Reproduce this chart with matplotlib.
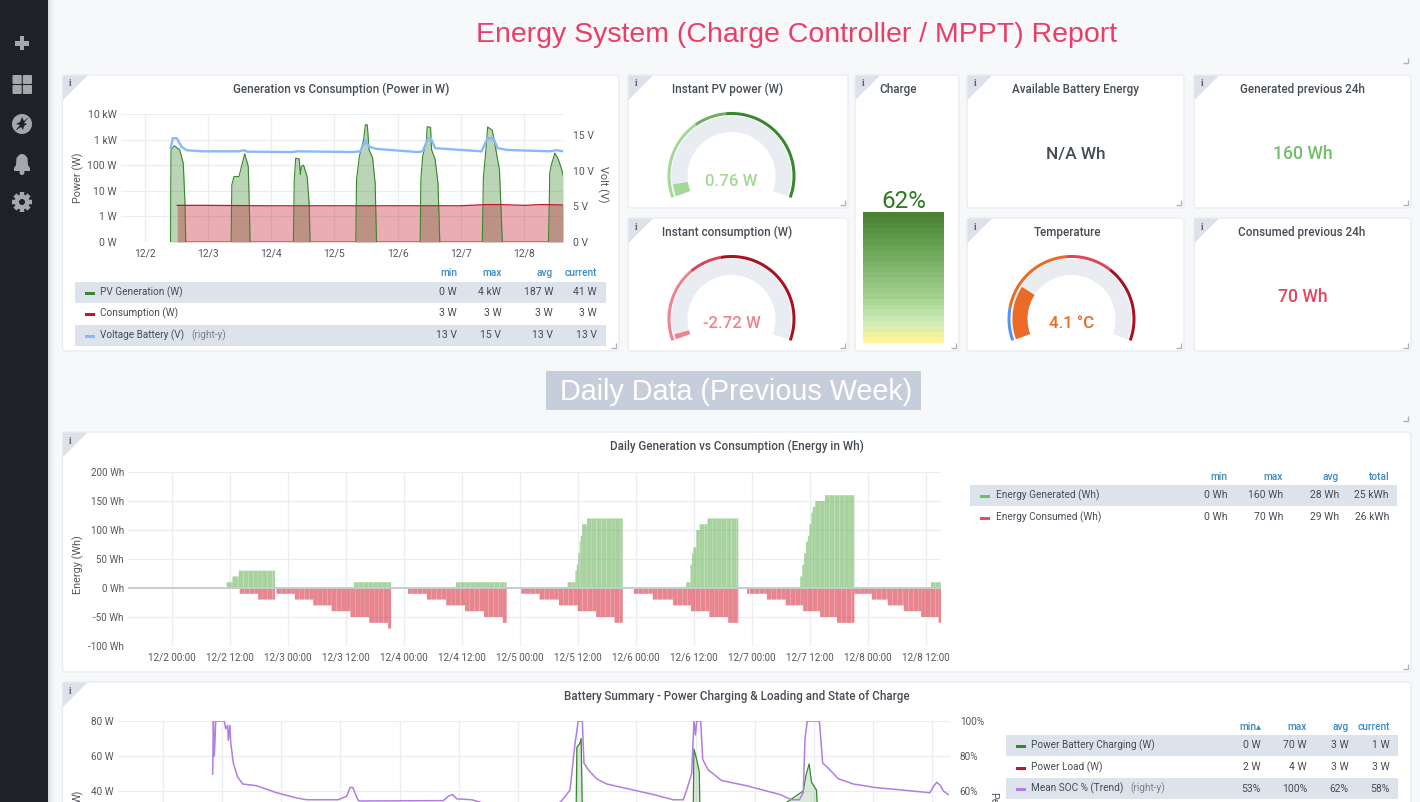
import numpy as np
import matplotlib

matplotlib.use("Agg")
import matplotlib.pyplot as plt
from matplotlib.colors import LinearSegmentedColormap
from matplotlib.patches import Circle, FancyBboxPatch, Polygon, Rectangle

W, H = 1420, 802
plt.rcParams["font.family"] = ["Roboto", "DejaVu Sans"]

TEXT = "#464c54"
TICK = "#53565e"
GRID = "#eaedf2"
HEAD = "#3c8cc8"
BAND = "#dde3ec"
GREEN = "#37872d"
RED = "#c4162a"
BLUE = "#8ab8ff"
PURPLE = "#b27de2"

# power chart, x in days after 12/2 00:00
pv_days = [0.405, 0.407, 0.412, 0.464, 0.549, 0.606, 0.634, 0.645,
           1.364, 1.375, 1.409, 1.449, 1.488, 1.579, 1.635, 1.652, 1.664,
           2.35, 2.364, 2.387, 2.443, 2.46, 2.477, 2.511, 2.568, 2.6, 2.615, 2.63,
           3.339, 3.35, 3.395, 3.463, 3.49, 3.52, 3.549, 3.605, 3.645, 3.667,
           4.358, 4.369, 4.397, 4.454, 4.47, 4.522, 4.539, 4.595, 4.64, 4.669,
           5.342, 5.359, 5.399, 5.427, 5.501, 5.557, 5.614, 5.659,
           6.39, 6.406, 6.41, 6.43, 6.49, 6.55, 6.6, 6.62]
pv_watts = [0.1, 4.5, 400, 575, 400, 120, 3, 0.1,
            0.1, 17, 36, 36, 36, 280, 91, 3, 0.1,
            0.1, 27, 190, 175, 43, 91, 100, 36, 3, 0.1, 0.1,
            0.1, 27, 220, 1000, 3800, 3800, 400, 190, 20, 0.1,
            0.1, 27, 220, 800, 3200, 3000, 400, 170, 20, 0.1,
            0.1, 32, 400, 3100, 2300, 400, 66, 0.1,
            0.1, 12, 50, 90, 300, 160, 66, 41]
load_days = [0.51, 1.0, 2.0, 3.0, 4.0, 5.0, 5.4, 5.6, 6.0, 6.3, 6.62]
load_watts = [2.7, 2.7, 2.6, 2.6, 2.6, 2.6, 2.9, 2.9, 2.7, 2.9, 2.8]
volt_days = [0.407, 0.44, 0.503, 0.577, 0.662, 0.917, 1.483, 1.567, 1.624, 2.33, 2.415,
             3.294, 3.407, 3.492, 3.549, 3.662, 4.312, 4.397, 4.482, 4.527, 4.595,
             5.33, 5.426, 5.517, 5.585, 5.73, 6.405, 6.52, 6.62]
volt_values = [13.2, 14.6, 14.6, 13.4, 12.9, 12.75, 12.75, 12.9, 12.7, 12.65, 12.75,
               12.65, 12.75, 14.25, 13.4, 13.1, 12.65, 12.75, 14.6, 14.6, 13.2,
               12.75, 14.6, 14.6, 13.2, 12.95, 12.75, 12.9, 12.75]
power_ticks = [0.1, 1, 10, 100, 1000, 10000]
power_labels = ["0 W", "1 W", "10 W", "100 W", "1 kW", "10 kW"]
volt_ticks = [0, 5, 10, 15]
volt_labels = ["0 V", "5 V", "10 V", "15 V"]
date_labels = ["12/2", "12/3", "12/4", "12/5", "12/6", "12/7", "12/8"]

# daily energy, x in hours after 12/2 00:00
gen_start = [11.4, 12.6, 13.9, 37.7, 58.8, 81.9, 83.5, 83.8, 84.1, 84.4, 84.6, 84.9, 85.9,
             106.4, 107.3, 107.6, 107.9, 108.5, 109.2, 110.8,
             130.0, 130.4, 130.8, 131.2, 131.6, 131.9, 132.3, 132.6, 133.1, 135.1, 157.0]
gen_end = [12.6, 13.9, 21.4, 45.4, 69.3, 83.5, 83.8, 84.1, 84.4, 84.6, 84.9, 85.9, 93.3,
           107.3, 107.6, 107.9, 108.5, 109.2, 110.8, 117.2,
           130.4, 130.8, 131.2, 131.6, 131.9, 132.3, 132.6, 133.1, 135.1, 141.2, 159.1]
gen_wh = [10, 20, 30, 10, 10, 10, 30, 40, 60, 80, 90, 110, 120,
          10, 40, 60, 70, 100, 110, 120,
          20, 40, 60, 80, 90, 110, 130, 140, 150, 160, 10]
use_start = [14.1, 17.9, 21.7, 25.5, 29.3, 33.1, 37.0, 40.9, 44.8,
             48.9, 52.8, 56.8, 60.7, 64.6, 68.5,
             72.3, 76.1, 80.1, 84.0, 87.8, 91.6,
             95.6, 99.5, 103.7, 107.4, 111.2, 115.1,
             119.0, 119.6, 123.1, 127.0, 130.6, 134.1, 137.6,
             141.2, 144.8, 148.1, 151.4, 155.0, 158.6]
use_end = [17.9, 21.4, 25.5, 29.3, 33.1, 37.0, 40.9, 44.8, 45.4,
           52.8, 56.8, 60.7, 64.6, 68.5, 69.3,
           76.1, 80.1, 84.0, 87.8, 91.6, 93.3,
           99.5, 103.7, 107.4, 111.2, 115.1, 117.2,
           119.5, 123.1, 127.0, 130.6, 134.1, 137.6, 141.2,
           144.8, 148.1, 151.4, 155.0, 158.6, 159.1]
use_wh = [-10, -20, -10, -20, -30, -40, -50, -60, -70,
          -10, -20, -30, -40, -50, -60,
          -10, -20, -30, -40, -50, -60,
          -10, -20, -30, -40, -50, -60,
          -10, -10, -20, -30, -40, -50, -60,
          -10, -20, -30, -40, -50, -60]
energy_ticks = [-100, -50, 0, 50, 100, 150, 200]
energy_labels = ["-100 Wh", "-50 Wh", "0 Wh", "50 Wh", "100 Wh", "150 Wh", "200 Wh"]
hour_ticks = [0, 12, 24, 36, 48, 60, 72, 84, 96, 108, 120, 132, 144, 156]
hour_labels = ["12/2 00:00", "12/2 12:00", "12/3 00:00", "12/3 12:00", "12/4 00:00",
               "12/4 12:00", "12/5 00:00", "12/5 12:00", "12/6 00:00", "12/6 12:00",
               "12/7 00:00", "12/7 12:00", "12/8 00:00", "12/8 12:00"]

# battery chart, x in days, cut off by the bottom of the page
soc_days = [0.422, 0.428, 0.436, 0.448, 0.52, 0.532, 0.549, 0.554, 0.568, 0.574, 0.596, 0.633,
            0.676, 0.794, 0.963, 1.132, 1.216, 1.483, 1.554, 1.582, 1.605, 1.652, 1.681,
            2.37, 2.412, 2.449, 2.483, 2.61, 2.76, 3.19, 3.31,
            3.37, 3.44, 3.482, 3.51, 3.544, 3.558, 3.595, 3.665, 3.75, 3.947, 4.143, 4.312,
            4.397, 4.425, 4.468, 4.487, 4.50, 4.51, 4.544, 4.561, 4.608, 4.72, 4.932, 5.213,
            5.312, 5.377, 5.41, 5.425, 5.444, 5.546, 5.557, 5.574, 5.622, 5.706, 5.833,
            6.016, 6.255, 6.48, 6.509, 6.537, 6.571, 6.593, 6.635]
soc_pct = [69.7, 100, 80, 100, 100, 95.5, 97.5, 89, 97.5, 88, 76, 68,
           64, 63, 59, 56, 55, 55, 57, 62, 62, 54.5, 54.3,
           54.5, 57, 58, 55.5, 55, 52, 50, 51,
           54.5, 60.5, 87, 100, 100, 76, 72, 67, 64, 61, 58, 55,
           55, 60.5, 70, 100, 92, 100, 100, 78, 72, 66, 63, 58,
           55, 55, 59, 90, 100, 100, 91, 76, 73, 67, 64,
           62, 60.5, 59, 62.5, 65, 63, 60, 58]
chg_days = [3.487, 3.498, 3.522, 3.534, 3.551, 4.475, 4.487, 4.51, 4.532, 4.544,
            5.41, 5.433, 5.46, 5.48, 5.522, 5.55]
chg_watts = [0, 65, 67, 70, 0, 0, 64, 58, 51, 0, 40, 49, 55.5, 45, 40.5, 0]
batt_ticks = [40, 60, 80]
batt_labels = ["40 W", "60 W", "80 W"]
pct_ticks = [60, 80, 100]
pct_labels = ["60%", "80%", "100%"]
batt_grid_days = [0, 0.5, 1, 1.5, 2, 2.5, 3, 3.5, 4, 4.5, 5, 5.5, 6, 6.5]

# legend tables
power_cols = ["min", "max", "avg", "current"]
power_rows = [("PV Generation (W)", "", GREEN, ["0 W", "4 kW", "187 W", "41 W"]),
              ("Consumption (W)", "", RED, ["3 W", "3 W", "3 W", "3 W"]),
              ("Voltage Battery (V)", "(right-y)", BLUE, ["13 V", "15 V", "13 V", "13 V"])]
energy_cols = ["min", "max", "avg", "total"]
energy_rows = [("Energy Generated (Wh)", "", "#73bf69", ["0 Wh", "160 Wh", "28 Wh", "25 kWh"]),
               ("Energy Consumed (Wh)", "", "#f2495c", ["0 Wh", "70 Wh", "29 Wh", "26 kWh"])]
batt_cols = ["min▴", "max", "avg", "current"]
batt_rows = [("Power Battery Charging (W)", "", GREEN, ["0 W", "70 W", "3 W", "1 W"]),
             ("Power Load (W)", "", RED, ["2 W", "4 W", "3 W", "3 W"]),
             ("Mean SOC % (Trend)", "(right-y)", PURPLE, ["53%", "100%", "62%", "58%"])]

fig = plt.figure(figsize=(W / 100, H / 100), dpi=100, facecolor="#f7f8fa")
page = fig.add_axes([0, 0, 1, 1], facecolor="none")
page.set_xlim(0, W)
page.set_ylim(H, 0)
page.axis("off")


def px_axes(x0, y0, x1, y1):
    return fig.add_axes([x0 / W, 1 - y1 / H, (x1 - x0) / W, (y1 - y0) / H], facecolor="none")


def clean(ax, size):
    for s in ax.spines.values():
        s.set_visible(False)
    ax.tick_params(length=0, labelsize=size, labelcolor=TICK, pad=3)
    ax.set_axisbelow(True)
    ax.grid(True, color=GRID, linewidth=0.9)


def panel(x0, y0, x1, y1, title, tx=None):
    page.add_patch(FancyBboxPatch((x0, y0), x1 - x0, y1 - y0, boxstyle="round,pad=0,rounding_size=3",
                                  fc="white", ec="#e8ebf0", lw=0.9))
    page.add_patch(Polygon([(x0 + 0.5, y0 + 0.5), (x0 + 25, y0 + 0.5), (x0 + 0.5, y0 + 25)], fc="#dde1e9", ec="none"))
    page.text(x0 + 8, y0 + 9, "i", family="Liberation Serif", fontweight="bold", fontsize=7, color="#60646c",
              ha="center", va="center")
    page.text((x0 + x1) / 2 if tx is None else tx, y0 + 14.5, title, fontsize=8.4, fontweight="medium", color=TEXT,
              ha="center", va="center")
    if y1 < H:
        handle(x1 - 3, y1 - 3)


def handle(x, y):
    page.plot([x - 5, x, x], [y, y, y - 5], color="#aeb3bb", lw=1, solid_capstyle="butt")


def table(left, right, top, cols, col_x, rows, row_y, label_x):
    for c, x in zip(cols, col_x):
        page.text(x, top, c, fontsize=7.3, fontweight="medium", color=HEAD, ha="right", va="center")
    for i, ((name, note, color, vals), y) in enumerate(zip(rows, row_y)):
        if i % 2 == 0:
            page.add_patch(Rectangle((left, y - 10.5), right - left, 21, fc=BAND, ec="none"))
        page.add_patch(Rectangle((left + 9.5, y - 0.5), 10.5, 3, fc=color, ec="none"))
        t = page.text(label_x, y, name, fontsize=7.2, color=TEXT, va="center")
        if note:
            page.text(label_x + 7 + t.get_window_extent(fig.canvas.get_renderer()).width, y, note, fontsize=7.2,
                      color="#7b8087", va="center")
        for v, x in zip(vals, col_x):
            page.text(x, y, v, fontsize=7.5, color=TEXT, ha="right", va="center")


def arc(cx, cy, r0, r1, a0, a1, color, **kw):
    a = np.radians(np.linspace(a0, a1, 60))
    xs = np.r_[cx + r1 * np.cos(a), cx + r0 * np.cos(a[::-1])]
    ys = np.r_[cy - r1 * np.sin(a), cy - r0 * np.sin(a[::-1])]
    page.add_patch(Polygon(np.c_[xs, ys], fc=color, ec="none", **kw))


def gauge(cx, cy, rim, a_val, val_color, text, text_y):
    arc(cx, cy, 44, 60, 200, -20, "#e9edf2")
    for a0, a1, c in rim:
        arc(cx, cy, 61, 64, a0, a1, c)
    arc(cx, cy, 44, 59, 200, a_val, val_color)
    page.text(cx, text_y, text, fontsize=12.1, fontweight="medium", color=val_color, ha="center", va="center")


def striped_bars(ax, starts, ends, values, color):
    # the source bars are about an hour wide, which shows as faint stripes
    for s, e, v in zip(starts, ends, values):
        left = np.arange(s, e, 1.0)
        ax.bar(left, v, np.minimum(0.97, e - left), align="edge", color=color, alpha=0.6, lw=0, snap=False)


# sidebar
page.add_patch(Rectangle((0, 0), 48, H, fc="#1f2128", ec="none", zorder=3))
for k, a in enumerate([0.10, 0.06, 0.035, 0.02]):
    page.add_patch(Rectangle((48 + k * 1.5, 0), 1.5, H, fc="black", alpha=a, ec="none", zorder=3))
ICON = "#a5a7aa"
page.add_patch(Rectangle((15, 41), 14, 4.6, fc=ICON, ec="none", zorder=4))
page.add_patch(Rectangle((19.7, 36), 4.6, 14, fc=ICON, ec="none", zorder=4))
for x, y in [(12.5, 75), (22.8, 75), (12.5, 85), (22.8, 85)]:
    page.add_patch(FancyBboxPatch((x, y), 9.2, 9, boxstyle="round,pad=0,rounding_size=1", fc=ICON, ec="none", zorder=4))
page.add_patch(Circle((22, 124), 10, fc=ICON, ec="none", zorder=4))
page.add_patch(Polygon([(29, 117), (24, 123), (27, 124), (24, 126), (23, 130), (21, 127), (15, 131), (20, 125),
                        (16, 124), (20, 122), (22, 117), (24, 121)], fc="#1f2128", ec="none", zorder=5))
page.add_patch(Polygon([(14, 171), (14, 168), (16, 165), (16.5, 158), (19, 155), (21, 154), (23, 154), (25, 155),
                        (27.5, 158), (28, 165), (30, 168), (30, 171)], fc=ICON, ec="none", zorder=4))
page.add_patch(Circle((22, 172.5), 2.5, fc=ICON, ec="none", zorder=4))
page.add_patch(Circle((22, 202), 7.5, fc=ICON, ec="none", zorder=4))
for ang in np.arange(0, 360, 45):
    dx, dy = np.cos(np.radians(ang)), np.sin(np.radians(ang))
    page.plot([22 + 6 * dx, 22 + 10 * dx], [202 + 6 * dy, 202 + 10 * dy], color=ICON, lw=3.2, zorder=4,
              solid_capstyle="butt")
page.add_patch(Circle((22, 202), 3, fc="#1f2128", ec="none", zorder=5))

# headings
page.text(796.5, 34.5, "Energy System (Charge Controller / MPPT) Report", family="Liberation Sans", fontsize=20.5,
          color="#ea3e66", ha="center", va="center")
page.add_patch(Rectangle((546, 371), 375, 39, fc="#c6cedb", ec="none"))
page.text(736, 391.5, "Daily Data (Previous Week)", family="Liberation Sans", fontsize=20.7, color="white",
          ha="center", va="center")
handle(1408, 63)
handle(1408, 421)

# panels
panel(62.5, 75, 619, 351, "Generation vs Consumption (Power in W)")
panel(628, 75, 848, 208, "Instant PV power (W)", 727.5)
panel(628, 218, 848, 351, "Instant consumption (W)", 727.5)
panel(855, 75, 959, 351, "Charge", 898)
panel(967, 75, 1184, 208, "Available Battery Energy")
panel(967, 218, 1184, 351, "Temperature", 1067)
panel(1194, 75, 1411, 208, "Generated previous 24h", 1302)
panel(1194, 218, 1411, 351, "Consumed previous 24h", 1302)
panel(62.5, 432, 1411, 672, "Daily Generation vs Consumption (Energy in Wh)")
panel(62.5, 682, 1411, 830, "Battery Summary - Power Charging & Loading and State of Charge")

# power chart
ax = px_axes(121, 114, 563, 242)
clean(ax, 7.5)
ax.set_yscale("log")
ax.set_xlim(-0.38, 6.62)
ax.set_ylim(0.1, 10000)
ax.fill_between(pv_days, pv_watts, 0.1, color=GREEN, alpha=0.35, lw=0)
ax.plot(pv_days, pv_watts, color=GREEN, lw=0.8)
ax.fill_between(load_days, load_watts, 0.1, color=RED, alpha=0.35, lw=0)
ax.plot(load_days, load_watts, color=RED, lw=0.9)
ax.set_xticks(range(7), date_labels)
ax.set_yticks(power_ticks, power_labels)
ax.minorticks_off()
ax.tick_params(axis="x", pad=5)
page.text(78, 178, "Power (W)", fontsize=7.8, color=TICK, rotation=90, ha="center", va="center")
ax_v = ax.twinx()
ax_v.set_facecolor("none")
for s in ax_v.spines.values():
    s.set_visible(False)
ax_v.set_ylim(0, 18)
ax_v.plot(volt_days, volt_values, color=BLUE, lw=1.7)
ax_v.set_yticks(volt_ticks, volt_labels)
ax_v.tick_params(length=0, labelsize=7.5, labelcolor=TICK, pad=7)
ax_v.grid(False)
page.text(603, 184, "Volt (V)", fontsize=7.8, color=TICK, rotation=270, ha="center", va="center")
table(75, 606, 273, power_cols, [457, 501.5, 553, 597], power_rows, [292, 313.5, 335], 100)

# gauges
gauge(731.5, 176, [(200, 125, "#a3d897"), (125, 95, "#6eb05f"), (95, -20, GREEN)], 188, "#a3d897", "0.76 W", 181)
gauge(731.5, 319, [(200, 130, "#f2808d"), (130, 100, "#dc4659"), (100, -20, "#a8121f")], 195, "#f2808d", "-2.72 W", 323)
gauge(1071.5, 319, [(200, 170, "#5794f2"), (170, 95, "#ec6a22"), (95, 52, "#e0465a"), (52, -20, "#a8121f")], 147,
      "#ea6a28", "4.1 °C", 324)

# charge bar
bar_map = LinearSegmentedColormap.from_list(
    "charge", [(0, "#4a8234"), (0.35, "#76ae62"), (0.65, "#a2d18e"), (0.85, "#cdecb6"), (1, "#fff59b")], N=24)
ax_c = px_axes(863, 212, 944, 343)
ax_c.imshow(np.linspace(0, 1, 24).reshape(-1, 1), cmap=bar_map, aspect="auto", interpolation="nearest")
ax_c.axis("off")
page.text(903.5, 201.5, "62%", fontsize=17.4, color="#2d7a1f", ha="center", va="center")

# single values
page.text(1075.5, 154, "N/A Wh", fontsize=12.4, fontweight="medium", color=TEXT, ha="center", va="center")
page.text(1302.5, 154, "160 Wh", fontsize=12.7, fontweight="medium", color="#73bf69", ha="center", va="center")
page.text(1302.5, 297, "70 Wh", fontsize=12.7, fontweight="medium", color="#e8455a", ha="center", va="center")

# daily energy
ax_e = px_axes(128, 472, 941, 646)
clean(ax_e, 7.1)
ax_e.set_xlim(-9.0, 159.1)
ax_e.set_ylim(-100, 200)
striped_bars(ax_e, gen_start, gen_end, gen_wh, "#6fb760")
striped_bars(ax_e, use_start, use_end, use_wh, "#d93544")
ax_e.axhline(0, color="#c9cbce", lw=1.4, zorder=1)
ax_e.set_xticks(hour_ticks, hour_labels)
ax_e.set_yticks(energy_ticks, energy_labels)
ax_e.tick_params(axis="x", pad=5)
page.text(78, 565, "Energy (Wh)", fontsize=7.8, color=TICK, rotation=90, ha="center", va="center")
table(970, 1397, 477, energy_cols, [1227, 1283, 1339, 1389], energy_rows, [495.5, 517], 996)

# battery summary
ax_b = px_axes(118, 721, 950, 861)
clean(ax_b, 7.2)
ax_b.set_xlim((118 - 162.7) / 118.4, (950 - 162.7) / 118.4)
ax_b.set_ylim(0, 80)
ax_b.fill_between(chg_days, chg_watts, 0, color=GREEN, alpha=0.18, lw=0)
ax_b.plot(chg_days, chg_watts, color=GREEN, lw=0.9)
ax_b.set_xticks(batt_grid_days, [""] * len(batt_grid_days))
ax_b.set_yticks(batt_ticks, batt_labels)
ax_s = ax_b.twinx()
ax_s.set_facecolor("none")
for s in ax_s.spines.values():
    s.set_visible(False)
ax_s.set_ylim(20, 100)
ax_s.plot(soc_days, soc_pct, color=PURPLE, lw=1.1)
ax_s.set_yticks(pct_ticks, pct_labels)
ax_s.tick_params(length=0, labelsize=7.2, labelcolor=TICK, pad=7)
ax_s.grid(False)
# only the ends of the two axis titles are on the page
page.text(78, 790, "W)", fontsize=7.8, color=TICK, rotation=90, ha="center", va="top")
page.text(993, 792, "Pe", fontsize=7.8, color=TICK, rotation=270, ha="center", va="top")
table(1006, 1398, 727, batt_cols, [1261, 1307, 1349, 1390], batt_rows, [745.5, 767, 788.5], 1031)

fig.savefig("out.png", dpi=100, facecolor=fig.get_facecolor())
